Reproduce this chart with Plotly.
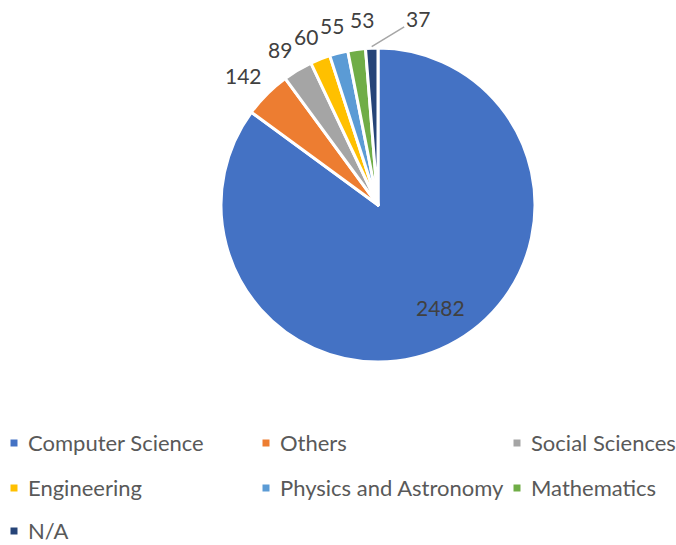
import math
import plotly.graph_objects as go

labels = ["Computer Science", "Others", "Social Sciences", "Engineering",
          "Physics and Astronomy", "Mathematics", "N/A"]
values = [2482, 142, 89, 60, 55, 53, 37]
colors = ["#4472C4", "#ED7D31", "#A5A5A5", "#FFC000", "#5B9BD5", "#70AD47", "#264478"]

W, H = 676, 545
cx, cy, r = 378, 205, 157

FONT = "Lato, 'Open Sans', sans-serif"
LBL = "#404040"
LEG = "#595959"

fig = go.Figure()
fig.add_trace(go.Pie(
    labels=labels, values=values, sort=False, direction="clockwise", rotation=0,
    marker=dict(colors=colors, line=dict(color="white", width=3)),
    textinfo="none", hoverinfo="label+value",
    domain=dict(x=[(cx - r) / W, (cx + r) / W], y=[(H - cy - r) / H, (H - cy + r) / H]),
    showlegend=False,
))

def px(x):
    return x / W

def py(y):
    return 1 - y / H

# data labels, positioned at each slice's mid angle
total = sum(values)
# (radial distance as fraction of r, extra pixel nudge x, y, leader line)
label_style = [(0.75, 9, -3, False), (1.18, -3, 1, False), (1.18, -3, 4, False),
               (1.18, -4, 4, False), (1.18, 0, 0, False), (1.18, 9, -2, False),
               (1.01, 0, 0, True)]
annots = []
cum = 0
for v, (rf, nx, ny, leader) in zip(values, label_style):
    mid = (cum + v / 2) / total * 2 * math.pi  # clockwise from 12 o'clock
    cum += v
    x = cx + r * rf * math.sin(mid) + nx
    y = cy - r * rf * math.cos(mid) + ny
    if leader:
        annots.append(dict(text=str(v), xref="paper", yref="paper", x=px(x), y=py(y),
                           showarrow=True, arrowhead=0, arrowwidth=1.5, arrowcolor="#A6A6A6",
                           ax=46, ay=-28, standoff=0, startstandoff=0,
                           font=dict(family=FONT, size=21, color=LBL)))
    else:
        annots.append(dict(text=str(v), xref="paper", yref="paper", x=px(x), y=py(y),
                           xanchor="center", yanchor="middle", showarrow=False,
                           font=dict(family=FONT, size=21, color=LBL)))

# legend (3 columns)
col_x = [14, 266, 517]
row_y = [443, 488, 531]
shapes = []
for i, (lab, c) in enumerate(zip(labels, colors)):
    mx = col_x[i % 3]
    my = row_y[i // 3]
    shapes.append(dict(type="rect", xref="paper", yref="paper",
                       x0=px(mx - 3.5), x1=px(mx + 3.5),
                       y0=py(my + 3.5), y1=py(my - 3.5),
                       fillcolor=c, line=dict(width=0)))
    annots.append(dict(text=lab, xref="paper", yref="paper", x=px(mx + 12), y=py(my - 1),
                       xanchor="left", yanchor="middle", showarrow=False,
                       font=dict(family=FONT, size=22, color=LEG)))

fig.update_layout(width=W, height=H, margin=dict(l=0, r=0, t=0, b=0, autoexpand=False),
                  paper_bgcolor="white", plot_bgcolor="white",
                  shapes=shapes, annotations=annots)
fig.write_html("out.html", config={"displayModeBar": False},
               post_script="document.body.style.margin='0';")
